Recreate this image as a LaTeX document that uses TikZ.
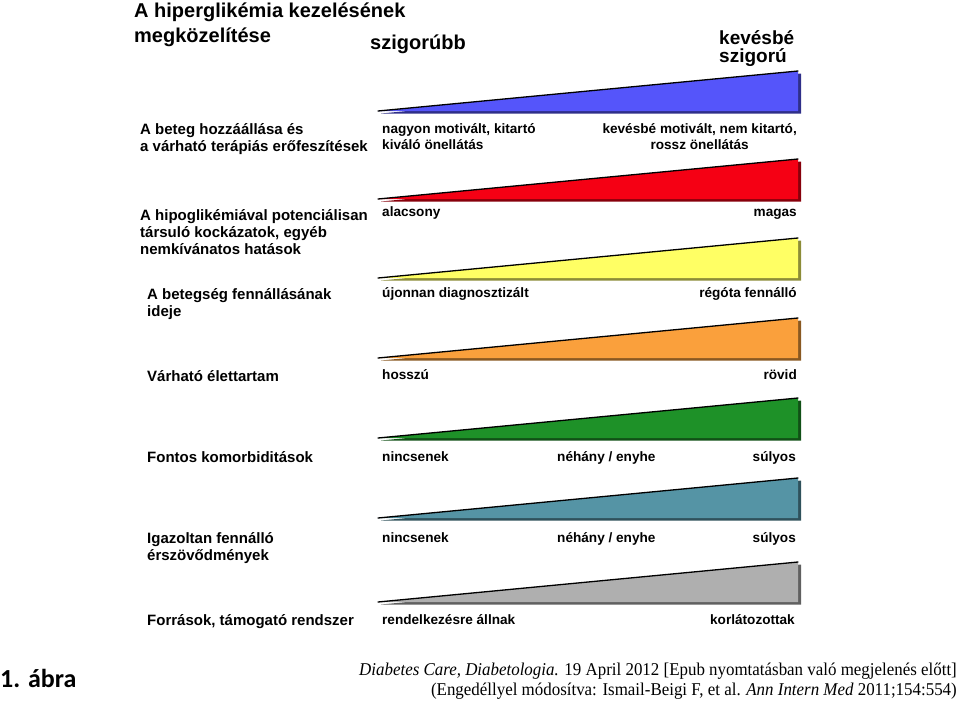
\documentclass[tikz,border=0pt]{standalone}
\usepackage{fontspec}
\setmainfont{Liberation Sans}
\newfontfamily\citefont{Liberation Serif}
\newfontfamily\figfont{Carlito}
\usepackage{xcolor}
\usetikzlibrary{positioning}

\definecolor{wedgeblue}{RGB}{85,85,250}
\definecolor{wedgered}{RGB}{245,0,20}
\definecolor{wedgeyellow}{RGB}{255,255,100}
\definecolor{wedgeorange}{RGB}{250,160,60}
\definecolor{wedgegreen}{RGB}{30,145,40}
\definecolor{wedgeteal}{RGB}{85,148,165}
\definecolor{wedgegray}{RGB}{175,175,175}

\tikzset{
  headlabel/.style={font=\fontsize{20}{25}\selectfont\bfseries, inner sep=0pt, align=left, anchor=base west},
  rowlabel/.style={font=\fontsize{15}{17}\selectfont\bfseries, inner sep=0pt, align=left, anchor=base west},
  endlabel/.style={font=\fontsize{13.6}{16}\selectfont\bfseries, inner sep=0pt, anchor=base west},
  endlabelr/.style={endlabel, anchor=base east},
  srclabel/.style={inner sep=0pt, anchor=base east, font=\citefont\fontsize{18}{20}\selectfont},
}

\begin{document}
\begin{tikzpicture}[x=1pt,y=-1pt]
\useasboundingbox (0,0) rectangle (960,701);

% Heading (base = last line)
\node[headlabel] (title) at (134,43) {A hiperglikémia kezelésének\\megközelítése};
\node[headlabel] (strict) at (370,50) {szigorúbb};
\node[headlabel, font=\fontsize{19}{18}\selectfont\bfseries] (loose) at (719,63) {kevésbé\\szigorú};

% Wedges
\foreach \col/\yb in {wedgeblue/111, wedgered/199, wedgeyellow/278, wedgeorange/358,
                      wedgegreen/438, wedgeteal/518, wedgegray/602}{
  \fill[\col!55!black] (381,\yb+2.5) -- (801,\yb-37.5) -- (801,\yb+2.5) -- cycle;
  \fill[\col] (378,\yb) -- (798,\yb-40) -- (798,\yb) -- cycle;
  \draw[line width=1.3pt, line cap=round] (378,\yb) -- (798,\yb-40);
}

% Row labels
\node[rowlabel] (attitude) at (140,151) {A beteg hozzáállása és\\a várható terápiás erőfeszítések};
\node[rowlabel] (risk) at (140,254) {A hipoglikémiával potenciálisan\\társuló kockázatok, egyéb\\nemkívánatos hatások};
\node[rowlabel] (duration) at (147,316) {A betegség fennállásának\\ideje};
\node[rowlabel] (life) at (147,381) {Várható élettartam};
\node[rowlabel] (comorb) at (147,462) {Fontos komorbiditások};
\node[rowlabel] (vascular) at (147,560) {Igazoltan fennálló\\érszövődmények};
\node[rowlabel] (resources) at (147,625) {Források, támogató rendszer};

% Wedge end labels
\node[endlabel, align=left] (attitude-lo) at (382,149) {nagyon motivált, kitartó\\kiváló önellátás};
\node[endlabelr, align=center] (attitude-hi) at (797,149) {kevésbé motivált, nem kitartó,\\rossz önellátás};
\node[endlabel] (risk-lo) at (382,216) {alacsony};
\node[endlabelr] (risk-hi) at (797,216) {magas};
\node[endlabel] (duration-lo) at (382,297) {újonnan diagnosztizált};
\node[endlabelr] (duration-hi) at (797,297) {régóta fennálló};
\node[endlabel] (life-lo) at (382,379) {hosszú};
\node[endlabelr] (life-hi) at (797,379) {rövid};
\node[endlabel] (comorb-lo) at (382,461) {nincsenek};
\node[endlabel] (comorb-mid) at (557,461) {néhány / enyhe};
\node[endlabelr] (comorb-hi) at (796,461) {súlyos};
\node[endlabel] (vascular-lo) at (382,542) {nincsenek};
\node[endlabel] (vascular-mid) at (557,542) {néhány / enyhe};
\node[endlabelr] (vascular-hi) at (796,542) {súlyos};
\node[endlabel] (resources-lo) at (382,624) {rendelkezésre állnak};
\node[endlabelr] (resources-hi) at (795,624) {korlátozottak};

% Figure caption and source
\node[inner sep=0pt, anchor=base west, font=\figfont\bfseries\fontsize{26}{26}\selectfont] (fig) at (0,687) {1. ábra};
\node[srclabel] (src1) at (957,675)
  {\scalebox{0.94}[1]{\textit{Diabetes Care, Diabetologia.} 19 April 2012 [Epub nyomtatásban való megjelenés előtt]}};
\node[srclabel] (src2) at (957,695)
  {\scalebox{0.94}[1]{(Engedéllyel módosítva: Ismail-Beigi F, et al. \textit{Ann Intern Med} 2011;154:554)}};
\end{tikzpicture}
\end{document}
